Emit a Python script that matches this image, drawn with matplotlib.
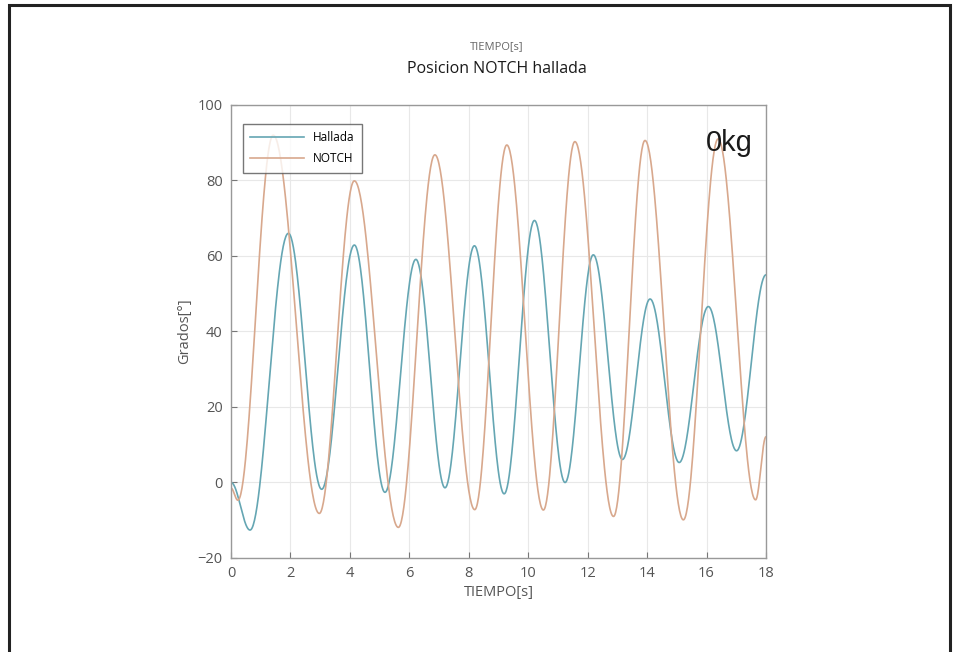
import numpy as np
import matplotlib.pyplot as plt
from matplotlib.patches import Rectangle

# Turning points (time [s], angle [deg]) of each signal
hallada_t = [0.0, 0.64, 1.93, 3.05, 4.15, 5.18, 6.22, 7.20, 8.19, 9.19, 10.21, 11.24, 12.19, 13.17, 14.10, 15.08, 16.06, 17.01, 18.0]
hallada_v = [0.0, -12.6, 66.0, -1.8, 62.9, -2.6, 59.1, -1.4, 62.7, -3.0, 69.4, 0.0, 60.3, 6.1, 48.6, 5.3, 46.6, 8.4, 55.0]

notch_t = [0.0, 0.23, 1.42, 2.97, 4.15, 5.63, 6.86, 8.20, 9.28, 10.51, 11.57, 12.87, 13.93, 15.22, 16.39, 17.65, 18.0]
notch_v = [-1.5, -4.7, 92.0, -8.2, 79.9, -11.9, 86.8, -7.2, 89.4, -7.3, 90.3, -9.0, 90.6, -9.9, 91.0, -4.6, 12.1]

xticks = [0, 2, 4, 6, 8, 10, 12, 14, 16, 18]
yticks = [-20, 0, 20, 40, 60, 80, 100]


def smooth(tk, vk, n=60):
    # half-cosine between consecutive turning points
    ts, vs = [], []
    for i in range(len(tk) - 1):
        s = np.linspace(0, 1, n, endpoint=False)
        ts.append(tk[i] + (tk[i + 1] - tk[i]) * s)
        vs.append(vk[i] + (vk[i + 1] - vk[i]) * (1 - np.cos(np.pi * s)) / 2)
    ts.append([tk[-1]])
    vs.append([vk[-1]])
    return np.concatenate(ts), np.concatenate(vs)


plt.rcParams['font.family'] = ['Open Sans', 'DejaVu Sans']

fig = plt.figure(figsize=(9.57, 6.52), dpi=100)
ax = fig.add_axes([0.2414, 0.1442, 0.559, 0.6948])

th, vh = smooth(hallada_t, hallada_v)
tn, vn = smooth(notch_t, notch_v)
ax.plot(th, vh, color='#65a6b3', lw=1.2, label='Hallada')
ax.plot(tn, vn, color='#d8a88d', lw=1.2, label='NOTCH')

ax.set_xlim(0, 18)
ax.set_ylim(-20, 100)
ax.set_xticks(xticks)
ax.set_yticks(yticks)
ax.grid(True, color='#e8e8e8', lw=0.8)
ax.set_axisbelow(True)
ax.tick_params(direction='in', length=4, colors='#777777', labelcolor='#555555', labelsize=10.5, pad=6)
for sp in ax.spines.values():
    sp.set_color('#999999')
    sp.set_linewidth(1.0)

ax.set_xlabel('TIEMPO[s]', color='#555555', fontsize=10.5, labelpad=3)
ax.set_ylabel('Grados[°]', color='#555555', fontsize=10.5, labelpad=4)

fig.text(0.519, 0.929, 'TIEMPO[s]', ha='center', va='center', fontsize=8, color='#666666')
fig.text(0.519, 0.894, 'Posicion NOTCH hallada', ha='center', va='center', fontsize=11.5, color='#1a1a1a')

ax.text(0.975, 0.915, '0kg', transform=ax.transAxes, ha='right', va='center', fontsize=21,
        family=['Liberation Sans', 'DejaVu Sans'], color='#1a1a1a')

leg = ax.legend(loc='upper left', bbox_to_anchor=(0.012, 0.972), fontsize=8.5, frameon=True,
                fancybox=False, handlelength=4.5, borderpad=0.6, labelspacing=0.75)
leg.get_frame().set_edgecolor('#555555')
leg.get_frame().set_linewidth(1.0)

# outer frame, bottom edge runs off the canvas
fig.patches.append(Rectangle((9 / 957, -0.01), 941 / 957, 1 - 5 / 652 + 0.01, transform=fig.transFigure,
                             fill=False, edgecolor='#222222', lw=2.2))

fig.savefig('out.png', dpi=100)
